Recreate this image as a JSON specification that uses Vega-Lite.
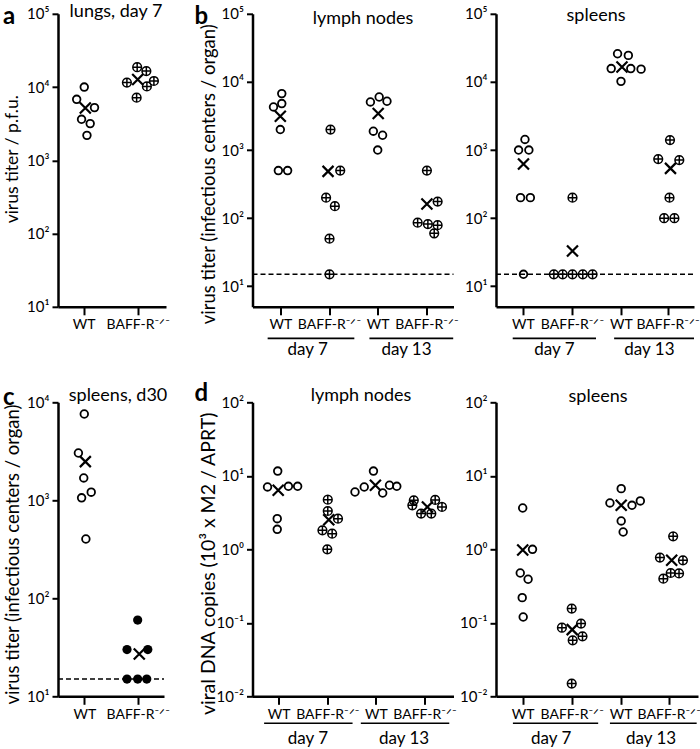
{
  "$schema": "https://vega.github.io/schema/vega-lite/v6.json",
  "background": "white",
  "padding": {"left": 2, "top": 2.8, "right": 0, "bottom": 0},
  "config": {
    "view": {"stroke": null},
    "font": "Lato",
    "axis": {"domainColor": "black", "domainWidth": 2.5, "tickColor": "black", "tickWidth": 2, "grid": false, "labelColor": "black", "labelFont": "Lato", "titleFont": "Lato", "titleColor": "black", "titleFontWeight": "normal"},
    "text": {"font": "Lato", "color": "black"}
  },
  "datasets": {
    "pts": [
      {"p":"a","t":"WT","x":1.01,"v":10000},{"p":"a","t":"WT","x":0.87,"v":6800},{"p":"a","t":"WT","x":1.20,"v":5240},{"p":"a","t":"WT","x":0.96,"v":3630},{"p":"a","t":"WT","x":1.12,"v":3170},{"p":"a","t":"WT","x":1.06,"v":2190},{"p":"a","t":"mean","x":1.03,"v":5180},
      {"p":"a","t":"KO","x":1.99,"v":18700},{"p":"a","t":"KO","x":2.16,"v":16500},{"p":"a","t":"KO","x":1.80,"v":11500},{"p":"a","t":"KO","x":2.30,"v":12100},{"p":"a","t":"KO","x":2.17,"v":10200},{"p":"a","t":"KO","x":1.98,"v":7160},{"p":"a","t":"mean","x":2.0,"v":12700},

      {"p":"b1","t":"WT","x":1.03,"v":6740},{"p":"b1","t":"WT","x":0.86,"v":4290},{"p":"b1","t":"WT","x":1.03,"v":4810},{"p":"b1","t":"WT","x":1.0,"v":2000},{"p":"b1","t":"WT","x":0.96,"v":500},{"p":"b1","t":"WT","x":1.15,"v":500},{"p":"b1","t":"mean","x":1.0,"v":3130},
      {"p":"b1","t":"KO","x":2.03,"v":2000},{"p":"b1","t":"KO","x":2.23,"v":500},{"p":"b1","t":"KO","x":1.94,"v":200},{"p":"b1","t":"KO","x":2.12,"v":150},{"p":"b1","t":"KO","x":2.01,"v":50},{"p":"b1","t":"KO","x":2.01,"v":15},{"p":"b1","t":"mean","x":1.98,"v":486},
      {"p":"b1","t":"WT","x":2.85,"v":5080},{"p":"b1","t":"WT","x":3.03,"v":6010},{"p":"b1","t":"WT","x":3.19,"v":5200},{"p":"b1","t":"WT","x":2.91,"v":1890},{"p":"b1","t":"WT","x":3.10,"v":1650},{"p":"b1","t":"WT","x":3.0,"v":1000},{"p":"b1","t":"mean","x":3.01,"v":3430},
      {"p":"b1","t":"KO","x":4.01,"v":500},{"p":"b1","t":"KO","x":4.23,"v":175},{"p":"b1","t":"KO","x":3.82,"v":86},{"p":"b1","t":"KO","x":4.03,"v":82},{"p":"b1","t":"KO","x":4.23,"v":79},{"p":"b1","t":"KO","x":4.16,"v":60},{"p":"b1","t":"mean","x":4.01,"v":161},

      {"p":"b2","t":"WT","x":1.04,"v":1430},{"p":"b2","t":"WT","x":0.91,"v":1000},{"p":"b2","t":"WT","x":1.12,"v":1000},{"p":"b2","t":"WT","x":0.95,"v":200},{"p":"b2","t":"WT","x":1.15,"v":200},{"p":"b2","t":"WT","x":1.01,"v":15},{"p":"b2","t":"mean","x":1.01,"v":622},
      {"p":"b2","t":"KO","x":2.01,"v":200},{"p":"b2","t":"KO","x":1.63,"v":15},{"p":"b2","t":"KO","x":1.81,"v":15},{"p":"b2","t":"KO","x":2.01,"v":15},{"p":"b2","t":"KO","x":2.22,"v":15},{"p":"b2","t":"KO","x":2.42,"v":15},{"p":"b2","t":"mean","x":2.01,"v":33},
      {"p":"b2","t":"WT","x":2.93,"v":25900},{"p":"b2","t":"WT","x":3.15,"v":24500},{"p":"b2","t":"WT","x":2.80,"v":15700},{"p":"b2","t":"WT","x":3.20,"v":15700},{"p":"b2","t":"WT","x":3.41,"v":15400},{"p":"b2","t":"WT","x":3.0,"v":10200},{"p":"b2","t":"mean","x":3.02,"v":16600},
      {"p":"b2","t":"KO","x":4.0,"v":1400},{"p":"b2","t":"KO","x":3.76,"v":736},{"p":"b2","t":"KO","x":4.19,"v":712},{"p":"b2","t":"KO","x":3.99,"v":200},{"p":"b2","t":"KO","x":3.88,"v":100},{"p":"b2","t":"KO","x":4.09,"v":100},{"p":"b2","t":"mean","x":4.01,"v":538},

      {"p":"c","t":"WT","x":1.0,"v":7600},{"p":"c","t":"WT","x":0.89,"v":3040},{"p":"c","t":"WT","x":0.99,"v":1690},{"p":"c","t":"WT","x":0.95,"v":1060},{"p":"c","t":"WT","x":1.13,"v":1210},{"p":"c","t":"WT","x":1.03,"v":403},{"p":"c","t":"mean","x":1.02,"v":2480},
      {"p":"c","t":"KOf","x":2.0,"v":60},{"p":"c","t":"KOf","x":1.80,"v":30},{"p":"c","t":"KOf","x":2.19,"v":30},{"p":"c","t":"KOf","x":1.80,"v":15},{"p":"c","t":"KOf","x":2.0,"v":15},{"p":"c","t":"KOf","x":2.17,"v":15},{"p":"c","t":"mean","x":2.03,"v":27},

      {"p":"d1","t":"WT","x":0.98,"v":11.6},{"p":"d1","t":"WT","x":0.77,"v":7.05},{"p":"d1","t":"WT","x":1.20,"v":7.2},{"p":"d1","t":"WT","x":1.39,"v":7.2},{"p":"d1","t":"WT","x":0.97,"v":2.61},{"p":"d1","t":"WT","x":0.97,"v":1.87},{"p":"d1","t":"mean","x":0.99,"v":6.35},
      {"p":"d1","t":"KO","x":2.01,"v":4.74},{"p":"d1","t":"KO","x":2.01,"v":3.32},{"p":"d1","t":"KO","x":2.22,"v":2.61},{"p":"d1","t":"KO","x":1.90,"v":1.81},{"p":"d1","t":"KO","x":2.10,"v":1.63},{"p":"d1","t":"KO","x":2.0,"v":1.0},{"p":"d1","t":"mean","x":2.03,"v":2.53},
      {"p":"d1","t":"WT","x":2.95,"v":11.6},{"p":"d1","t":"WT","x":2.57,"v":6.02},{"p":"d1","t":"WT","x":2.76,"v":7.04},{"p":"d1","t":"WT","x":3.14,"v":5.83},{"p":"d1","t":"WT","x":3.28,"v":7.43},{"p":"d1","t":"WT","x":3.43,"v":7.2},{"p":"d1","t":"mean","x":2.99,"v":7.43},
      {"p":"d1","t":"KO","x":3.78,"v":4.64},{"p":"d1","t":"KO","x":4.22,"v":4.7},{"p":"d1","t":"KO","x":3.75,"v":3.97},{"p":"d1","t":"KO","x":4.36,"v":3.77},{"p":"d1","t":"KO","x":3.93,"v":3.06},{"p":"d1","t":"KO","x":4.14,"v":3.06},{"p":"d1","t":"mean","x":4.06,"v":3.77},

      {"p":"d2","t":"WT","x":1.0,"v":3.65},{"p":"d2","t":"WT","x":1.20,"v":1.0},{"p":"d2","t":"WT","x":0.95,"v":0.476},{"p":"d2","t":"WT","x":1.11,"v":0.391},{"p":"d2","t":"WT","x":0.99,"v":0.22},{"p":"d2","t":"WT","x":1.01,"v":0.12},{"p":"d2","t":"mean","x":1.0,"v":0.98},
      {"p":"d2","t":"KO","x":2.0,"v":0.156},{"p":"d2","t":"KO","x":2.19,"v":0.0975},{"p":"d2","t":"KO","x":1.80,"v":0.0859},{"p":"d2","t":"KO","x":2.22,"v":0.0655},{"p":"d2","t":"KO","x":2.02,"v":0.0578},{"p":"d2","t":"KO","x":2.0,"v":0.0149},{"p":"d2","t":"mean","x":2.01,"v":0.0807},
      {"p":"d2","t":"WT","x":3.01,"v":6.69},{"p":"d2","t":"WT","x":2.78,"v":4.27},{"p":"d2","t":"WT","x":3.23,"v":3.97},{"p":"d2","t":"WT","x":3.40,"v":4.55},{"p":"d2","t":"WT","x":3.01,"v":2.43},{"p":"d2","t":"WT","x":3.05,"v":1.72},{"p":"d2","t":"mean","x":3.01,"v":3.97},
      {"p":"d2","t":"KO","x":4.07,"v":1.50},{"p":"d2","t":"KO","x":3.80,"v":0.771},{"p":"d2","t":"KO","x":4.27,"v":0.708},{"p":"d2","t":"KO","x":3.87,"v":0.399},{"p":"d2","t":"KO","x":4.02,"v":0.476},{"p":"d2","t":"KO","x":4.19,"v":0.47},{"p":"d2","t":"mean","x":4.04,"v":0.708}
    ],
    "grp": [
      {"p":"b1","g":"day 7","s":0.74,"e":2.52,"m":1.56},{"p":"b1","g":"day 13","s":2.83,"e":4.55,"m":3.59},
      {"p":"b2","g":"day 7","s":0.79,"e":2.49,"m":1.64},{"p":"b2","g":"day 13","s":2.86,"e":4.49,"m":3.58},
      {"p":"d1","g":"day 7","s":0.70,"e":2.52,"m":1.60},{"p":"d1","g":"day 13","s":2.69,"e":4.51,"m":3.58},
      {"p":"d2","g":"day 7","s":0.80,"e":2.54,"m":1.58},{"p":"d2","g":"day 13","s":2.78,"e":4.55,"m":3.62}
    ]
  },
  "columns": 3,
  "spacing": {"row": 95.5, "column": 42.5},
  "bounds": "flush",
  "align": "each",
  "concat": [
    {
      "width": 152, "height": 293,
      "layer": [
        {"data": {"name": "pts"}, "transform": [{"filter": "datum.p == 'a' && datum.t == 'WT'"}],
         "mark": {"type": "point", "shape": "circle", "filled": false, "stroke": "black", "strokeWidth": 1.8, "size": 58, "opacity": 1},
         "encoding": {
           "x": {"field": "x", "type": "quantitative", "scale": {"domain": [0.524, 2.524], "range": [0, 108], "nice": false, "zero": false},
                 "axis": {"values": [1, 2], "labelExpr": "round(datum.value) % 2 == 1 ? 'WT' : 'BAFF-R⁻ᐟ⁻'", "title": null, "labelFontSize": 14, "labelPadding": 3, "labelFlush": false, "labelOverlap": false, "tickSize": 8}},
           "y": {"field": "v", "type": "quantitative", "scale": {"type": "log", "domain": [10, 100000], "nice": false},
                 "axis": {"values": [10, 100, 1000, 10000, 100000], "labelExpr": "'10' + ['⁻²','⁻¹','⁰','¹','²','³','⁴','⁵'][round(log(datum.value)/LN10)+2]", "title": "virus titer / p.f.u.", "titleFontSize": 17.5, "titleX": -46, "titleY": 145, "titleAlign": "center", "titleBaseline": "middle", "labelFontSize": 15, "labelPadding": 3, "tickSize": 6}}
         }},
        {"data": {"name": "pts"}, "transform": [{"filter": "datum.p == 'a' && datum.t == 'KO'"}],
         "mark": {"type": "point", "shape": "M-1,0A1,1,0,1,1,1,0A1,1,0,1,1,-1,0ZM-1,0H1M0,-1V1", "filled": false, "stroke": "black", "strokeWidth": 1.5, "size": 76, "opacity": 1},
         "encoding": {"x": {"field": "x", "type": "quantitative"}, "y": {"field": "v", "type": "quantitative"}}},
        {"data": {"name": "pts"}, "transform": [{"filter": "datum.p == 'a' && datum.t == 'mean'"}],
         "mark": {"type": "point", "shape": "M-1,-1L1,1M-1,1L1,-1", "filled": false, "stroke": "black", "strokeWidth": 2.2, "size": 121, "opacity": 1},
         "encoding": {"x": {"field": "x", "type": "quantitative"}, "y": {"field": "v", "type": "quantitative"}}},
        {"data": {"values": [{"label": "lungs, day 7"}]},
         "mark": {"type": "text", "fontSize": 18, "baseline": "middle", "align": "center"},
         "encoding": {"text": {"field": "label"}, "x": {"datum": 1.598}, "y": {"datum": 104800}}},
        {"data": {"values": [{"label": "a"}]},
         "mark": {"type": "text", "fontSize": 24, "fontWeight": "bold", "baseline": "alphabetic", "align": "left"},
         "encoding": {"text": {"field": "label"}, "x": {"datum": -0.495}, "y": {"datum": 71900}}}
      ]
    },
    {
      "width": 201, "height": 293,
      "layer": [
        {"data": {"values": [{}]},
         "mark": {"type": "rule", "strokeDash": [5, 3], "strokeWidth": 1.6, "color": "black"},
         "encoding": {"x": {"datum": 0.429}, "x2": {"datum": 4.556}, "y": {"datum": 15}}},
        {"data": {"name": "pts"}, "transform": [{"filter": "datum.p == 'b1' && datum.t == 'WT'"}],
         "mark": {"type": "point", "shape": "circle", "filled": false, "stroke": "black", "strokeWidth": 1.8, "size": 58, "opacity": 1},
         "encoding": {
           "x": {"field": "x", "type": "quantitative", "scale": {"domain": [0.429, 4.556], "nice": false, "zero": false},
                 "axis": {"values": [1, 2, 3, 4], "labelExpr": "round(datum.value) % 2 == 1 ? 'WT' : 'BAFF-R⁻ᐟ⁻'", "title": null, "labelFontSize": 14, "labelPadding": 3, "labelFlush": false, "labelOverlap": false, "tickSize": 8}},
           "y": {"field": "v", "type": "quantitative", "scale": {"type": "log", "domain": [5, 100000], "nice": false},
                 "axis": {"values": [10, 100, 1000, 10000, 100000], "labelExpr": "'10' + ['⁻²','⁻¹','⁰','¹','²','³','⁴','⁵'][round(log(datum.value)/LN10)+2]", "title": "virus titer (infectious centers / organ)", "titleFontSize": 18.5, "titleX": -44, "titleY": 160, "titleAlign": "center", "titleBaseline": "middle", "labelFontSize": 15, "labelPadding": 3, "tickSize": 6}}
         }},
        {"data": {"name": "pts"}, "transform": [{"filter": "datum.p == 'b1' && datum.t == 'KO'"}],
         "mark": {"type": "point", "shape": "M-1,0A1,1,0,1,1,1,0A1,1,0,1,1,-1,0ZM-1,0H1M0,-1V1", "filled": false, "stroke": "black", "strokeWidth": 1.5, "size": 76, "opacity": 1},
         "encoding": {"x": {"field": "x", "type": "quantitative"}, "y": {"field": "v", "type": "quantitative"}}},
        {"data": {"name": "pts"}, "transform": [{"filter": "datum.p == 'b1' && datum.t == 'mean'"}],
         "mark": {"type": "point", "shape": "M-1,-1L1,1M-1,1L1,-1", "filled": false, "stroke": "black", "strokeWidth": 2.2, "size": 121, "opacity": 1},
         "encoding": {"x": {"field": "x", "type": "quantitative"}, "y": {"field": "v", "type": "quantitative"}}},
        {"data": {"name": "grp"}, "transform": [{"filter": "datum.p == 'b1'"}],
         "mark": {"type": "rule", "strokeWidth": 1.7, "color": "black"},
         "encoding": {"x": {"field": "s", "type": "quantitative", "title": null}, "x2": {"field": "e"}, "y": {"datum": 1.718}}},
        {"data": {"name": "grp"}, "transform": [{"filter": "datum.p == 'b1'"}],
         "mark": {"type": "text", "fontSize": 17, "baseline": "middle", "align": "center"},
         "encoding": {"x": {"field": "m", "type": "quantitative", "title": null}, "y": {"datum": 1.157}, "text": {"field": "g"}}},
        {"data": {"values": [{"label": "lymph nodes"}]},
         "mark": {"type": "text", "fontSize": 18, "baseline": "middle", "align": "center"},
         "encoding": {"text": {"field": "label"}, "x": {"datum": 2.698}, "y": {"datum": 85300}}},
        {"data": {"values": [{"label": "b"}]},
         "mark": {"type": "text", "fontSize": 24, "fontWeight": "bold", "baseline": "alphabetic", "align": "left"},
         "encoding": {"text": {"field": "label"}, "x": {"datum": -0.762}, "y": {"datum": 70150}}}
      ]
    },
    {
      "width": 198, "height": 293,
      "layer": [
        {"data": {"values": [{}]},
         "mark": {"type": "rule", "strokeDash": [5, 3], "strokeWidth": 1.6, "color": "black"},
         "encoding": {"x": {"datum": 0.449}, "x2": {"datum": 4.49}, "y": {"datum": 15}}},
        {"data": {"name": "pts"}, "transform": [{"filter": "datum.p == 'b2' && datum.t == 'WT'"}],
         "mark": {"type": "point", "shape": "circle", "filled": false, "stroke": "black", "strokeWidth": 1.8, "size": 58, "opacity": 1},
         "encoding": {
           "x": {"field": "x", "type": "quantitative", "scale": {"domain": [0.449, 4.49], "nice": false, "zero": false},
                 "axis": {"values": [1, 2, 3, 3.95], "labelExpr": "round(datum.value) % 2 == 1 ? 'WT' : 'BAFF-R⁻ᐟ⁻'", "title": null, "labelFontSize": 14, "labelPadding": 3, "labelFlush": false, "labelOverlap": false, "tickSize": 8}},
           "y": {"field": "v", "type": "quantitative", "scale": {"type": "log", "domain": [5, 100000], "nice": false},
                 "axis": {"values": [10, 100, 1000, 10000, 100000], "labelExpr": "'10' + ['⁻²','⁻¹','⁰','¹','²','³','⁴','⁵'][round(log(datum.value)/LN10)+2]", "title": null, "labelFontSize": 15, "labelPadding": 3, "tickSize": 6}}
         }},
        {"data": {"name": "pts"}, "transform": [{"filter": "datum.p == 'b2' && datum.t == 'KO'"}],
         "mark": {"type": "point", "shape": "M-1,0A1,1,0,1,1,1,0A1,1,0,1,1,-1,0ZM-1,0H1M0,-1V1", "filled": false, "stroke": "black", "strokeWidth": 1.5, "size": 76, "opacity": 1},
         "encoding": {"x": {"field": "x", "type": "quantitative"}, "y": {"field": "v", "type": "quantitative"}}},
        {"data": {"name": "pts"}, "transform": [{"filter": "datum.p == 'b2' && datum.t == 'mean'"}],
         "mark": {"type": "point", "shape": "M-1,-1L1,1M-1,1L1,-1", "filled": false, "stroke": "black", "strokeWidth": 2.2, "size": 121, "opacity": 1},
         "encoding": {"x": {"field": "x", "type": "quantitative"}, "y": {"field": "v", "type": "quantitative"}}},
        {"data": {"name": "grp"}, "transform": [{"filter": "datum.p == 'b2'"}],
         "mark": {"type": "rule", "strokeWidth": 1.7, "color": "black"},
         "encoding": {"x": {"field": "s", "type": "quantitative", "title": null}, "x2": {"field": "e"}, "y": {"datum": 1.718}}},
        {"data": {"name": "grp"}, "transform": [{"filter": "datum.p == 'b2'"}],
         "mark": {"type": "text", "fontSize": 17, "baseline": "middle", "align": "center"},
         "encoding": {"x": {"field": "m", "type": "quantitative", "title": null}, "y": {"datum": 1.157}, "text": {"field": "g"}}},
        {"data": {"values": [{"label": "spleens"}]},
         "mark": {"type": "text", "fontSize": 18, "baseline": "middle", "align": "center"},
         "encoding": {"text": {"field": "label"}, "x": {"datum": 2.49}, "y": {"datum": 94400}}}
      ]
    },
    {
      "width": 152, "height": 294,
      "layer": [
        {"data": {"values": [{}]},
         "mark": {"type": "rule", "strokeDash": [5, 3], "strokeWidth": 1.6, "color": "black"},
         "encoding": {"x": {"datum": 0.508}, "x2": {"datum": 2.493}, "y": {"datum": 15}}},
        {"data": {"name": "pts"}, "transform": [{"filter": "datum.p == 'c' && datum.t == 'WT'"}],
         "mark": {"type": "point", "shape": "circle", "filled": false, "stroke": "black", "strokeWidth": 1.8, "size": 58, "opacity": 1},
         "encoding": {
           "x": {"field": "x", "type": "quantitative", "scale": {"domain": [0.508, 2.493], "range": [0, 106], "nice": false, "zero": false},
                 "axis": {"values": [1, 2], "labelExpr": "round(datum.value) % 2 == 1 ? 'WT' : 'BAFF-R⁻ᐟ⁻'", "title": null, "labelFontSize": 14, "labelPadding": 3, "labelFlush": false, "labelOverlap": false, "tickSize": 8}},
           "y": {"field": "v", "type": "quantitative", "scale": {"type": "log", "domain": [10, 10000], "nice": false},
                 "axis": {"values": [10, 100, 1000, 10000], "labelExpr": "'10' + ['⁻²','⁻¹','⁰','¹','²','³','⁴','⁵'][round(log(datum.value)/LN10)+2]", "title": "virus titer (infectious centers / organ)", "titleFontSize": 18.5, "titleX": -46, "titleY": 151.7, "titleAlign": "center", "titleBaseline": "middle", "labelFontSize": 15, "labelPadding": 3, "tickSize": 6}}
         }},
        {"data": {"name": "pts"}, "transform": [{"filter": "datum.p == 'c' && datum.t == 'KOf'"}],
         "mark": {"type": "point", "shape": "circle", "filled": true, "fill": "black", "strokeWidth": 0, "size": 85, "opacity": 1},
         "encoding": {"x": {"field": "x", "type": "quantitative"}, "y": {"field": "v", "type": "quantitative"}}},
        {"data": {"name": "pts"}, "transform": [{"filter": "datum.p == 'c' && datum.t == 'mean'"}],
         "mark": {"type": "point", "shape": "M-1,-1L1,1M-1,1L1,-1", "filled": false, "stroke": "black", "strokeWidth": 2.2, "size": 121, "opacity": 1},
         "encoding": {"x": {"field": "x", "type": "quantitative"}, "y": {"field": "v", "type": "quantitative"}}},
        {"data": {"values": [{"label": "spleens, d30"}]},
         "mark": {"type": "text", "fontSize": 18, "baseline": "middle", "align": "center"},
         "encoding": {"text": {"field": "label"}, "x": {"datum": 1.632}, "y": {"datum": 11600}}},
        {"data": {"values": [{"label": "c"}]},
         "mark": {"type": "text", "fontSize": 24, "fontWeight": "bold", "baseline": "alphabetic", "align": "left"},
         "encoding": {"text": {"field": "label"}, "x": {"datum": -0.522}, "y": {"datum": 9385}}}
      ]
    },
    {
      "width": 201, "height": 294,
      "layer": [
        {"data": {"name": "pts"}, "transform": [{"filter": "datum.p == 'd1' && datum.t == 'WT'"}],
         "mark": {"type": "point", "shape": "circle", "filled": false, "stroke": "black", "strokeWidth": 1.8, "size": 58, "opacity": 1},
         "encoding": {
           "x": {"field": "x", "type": "quantitative", "scale": {"domain": [0.461, 4.597], "nice": false, "zero": false},
                 "axis": {"values": [1, 2, 3, 4], "labelExpr": "round(datum.value) % 2 == 1 ? 'WT' : 'BAFF-R⁻ᐟ⁻'", "title": null, "labelFontSize": 14, "labelPadding": 3, "labelFlush": false, "labelOverlap": false, "tickSize": 8}},
           "y": {"field": "v", "type": "quantitative", "scale": {"type": "log", "domain": [0.01, 100], "nice": false},
                 "axis": {"values": [0.01, 0.1, 1, 10, 100], "labelExpr": "'10' + ['⁻²','⁻¹','⁰','¹','²','³','⁴','⁵'][round(log(datum.value)/LN10)+2]", "title": "viral DNA copies (10³ x M2 / APRT)", "titleFontSize": 19.5, "titleX": -44, "titleY": 161, "titleAlign": "center", "titleBaseline": "middle", "labelFontSize": 15, "labelPadding": 3, "tickSize": 6}}
         }},
        {"data": {"name": "pts"}, "transform": [{"filter": "datum.p == 'd1' && datum.t == 'KO'"}],
         "mark": {"type": "point", "shape": "M-1,0A1,1,0,1,1,1,0A1,1,0,1,1,-1,0ZM-1,0H1M0,-1V1", "filled": false, "stroke": "black", "strokeWidth": 1.5, "size": 76, "opacity": 1},
         "encoding": {"x": {"field": "x", "type": "quantitative"}, "y": {"field": "v", "type": "quantitative"}}},
        {"data": {"name": "pts"}, "transform": [{"filter": "datum.p == 'd1' && datum.t == 'mean'"}],
         "mark": {"type": "point", "shape": "M-1,-1L1,1M-1,1L1,-1", "filled": false, "stroke": "black", "strokeWidth": 2.2, "size": 121, "opacity": 1},
         "encoding": {"x": {"field": "x", "type": "quantitative"}, "y": {"field": "v", "type": "quantitative"}}},
        {"data": {"name": "grp"}, "transform": [{"filter": "datum.p == 'd1'"}],
         "mark": {"type": "rule", "strokeWidth": 1.7, "color": "black"},
         "encoding": {"x": {"field": "s", "type": "quantitative", "title": null}, "x2": {"field": "e"}, "y": {"datum": 0.0043}}},
        {"data": {"name": "grp"}, "transform": [{"filter": "datum.p == 'd1'"}],
         "mark": {"type": "text", "fontSize": 17, "baseline": "middle", "align": "center"},
         "encoding": {"x": {"field": "m", "type": "quantitative", "title": null}, "y": {"datum": 0.0026}, "text": {"field": "g"}}},
        {"data": {"values": [{"label": "lymph nodes"}]},
         "mark": {"type": "text", "fontSize": 18, "baseline": "middle", "align": "center"},
         "encoding": {"text": {"field": "label"}, "x": {"datum": 2.694}, "y": {"datum": 123.7}}},
        {"data": {"values": [{"label": "d"}]},
         "mark": {"type": "text", "fontSize": 24, "fontWeight": "bold", "baseline": "alphabetic", "align": "left"},
         "encoding": {"text": {"field": "label"}, "x": {"datum": -0.732}, "y": {"datum": 105.1}}}
      ]
    },
    {
      "width": 202, "height": 294,
      "layer": [
        {"data": {"name": "pts"}, "transform": [{"filter": "datum.p == 'd2' && datum.t == 'WT'"}],
         "mark": {"type": "point", "shape": "circle", "filled": false, "stroke": "black", "strokeWidth": 1.8, "size": 58, "opacity": 1},
         "encoding": {
           "x": {"field": "x", "type": "quantitative", "scale": {"domain": [0.455, 4.577], "nice": false, "zero": false},
                 "axis": {"values": [1, 2, 3, 3.98], "labelExpr": "round(datum.value) % 2 == 1 ? 'WT' : 'BAFF-R⁻ᐟ⁻'", "title": null, "labelFontSize": 14, "labelPadding": 3, "labelFlush": false, "labelOverlap": false, "tickSize": 8}},
           "y": {"field": "v", "type": "quantitative", "scale": {"type": "log", "domain": [0.01, 100], "nice": false},
                 "axis": {"values": [0.01, 0.1, 1, 10, 100], "labelExpr": "'10' + ['⁻²','⁻¹','⁰','¹','²','³','⁴','⁵'][round(log(datum.value)/LN10)+2]", "title": null, "labelFontSize": 15, "labelPadding": 3, "tickSize": 6}}
         }},
        {"data": {"name": "pts"}, "transform": [{"filter": "datum.p == 'd2' && datum.t == 'KO'"}],
         "mark": {"type": "point", "shape": "M-1,0A1,1,0,1,1,1,0A1,1,0,1,1,-1,0ZM-1,0H1M0,-1V1", "filled": false, "stroke": "black", "strokeWidth": 1.5, "size": 76, "opacity": 1},
         "encoding": {"x": {"field": "x", "type": "quantitative"}, "y": {"field": "v", "type": "quantitative"}}},
        {"data": {"name": "pts"}, "transform": [{"filter": "datum.p == 'd2' && datum.t == 'mean'"}],
         "mark": {"type": "point", "shape": "M-1,-1L1,1M-1,1L1,-1", "filled": false, "stroke": "black", "strokeWidth": 2.2, "size": 121, "opacity": 1},
         "encoding": {"x": {"field": "x", "type": "quantitative"}, "y": {"field": "v", "type": "quantitative"}}},
        {"data": {"name": "grp"}, "transform": [{"filter": "datum.p == 'd2'"}],
         "mark": {"type": "rule", "strokeWidth": 1.7, "color": "black"},
         "encoding": {"x": {"field": "s", "type": "quantitative", "title": null}, "x2": {"field": "e"}, "y": {"datum": 0.0043}}},
        {"data": {"name": "grp"}, "transform": [{"filter": "datum.p == 'd2'"}],
         "mark": {"type": "text", "fontSize": 17, "baseline": "middle", "align": "center"},
         "encoding": {"x": {"field": "m", "type": "quantitative", "title": null}, "y": {"datum": 0.0026}, "text": {"field": "g"}}},
        {"data": {"values": [{"label": "spleens"}]},
         "mark": {"type": "text", "fontSize": 18, "baseline": "middle", "align": "center"},
         "encoding": {"text": {"field": "label"}, "x": {"datum": 2.537}, "y": {"datum": 118}}}
      ]
    }
  ]
}
